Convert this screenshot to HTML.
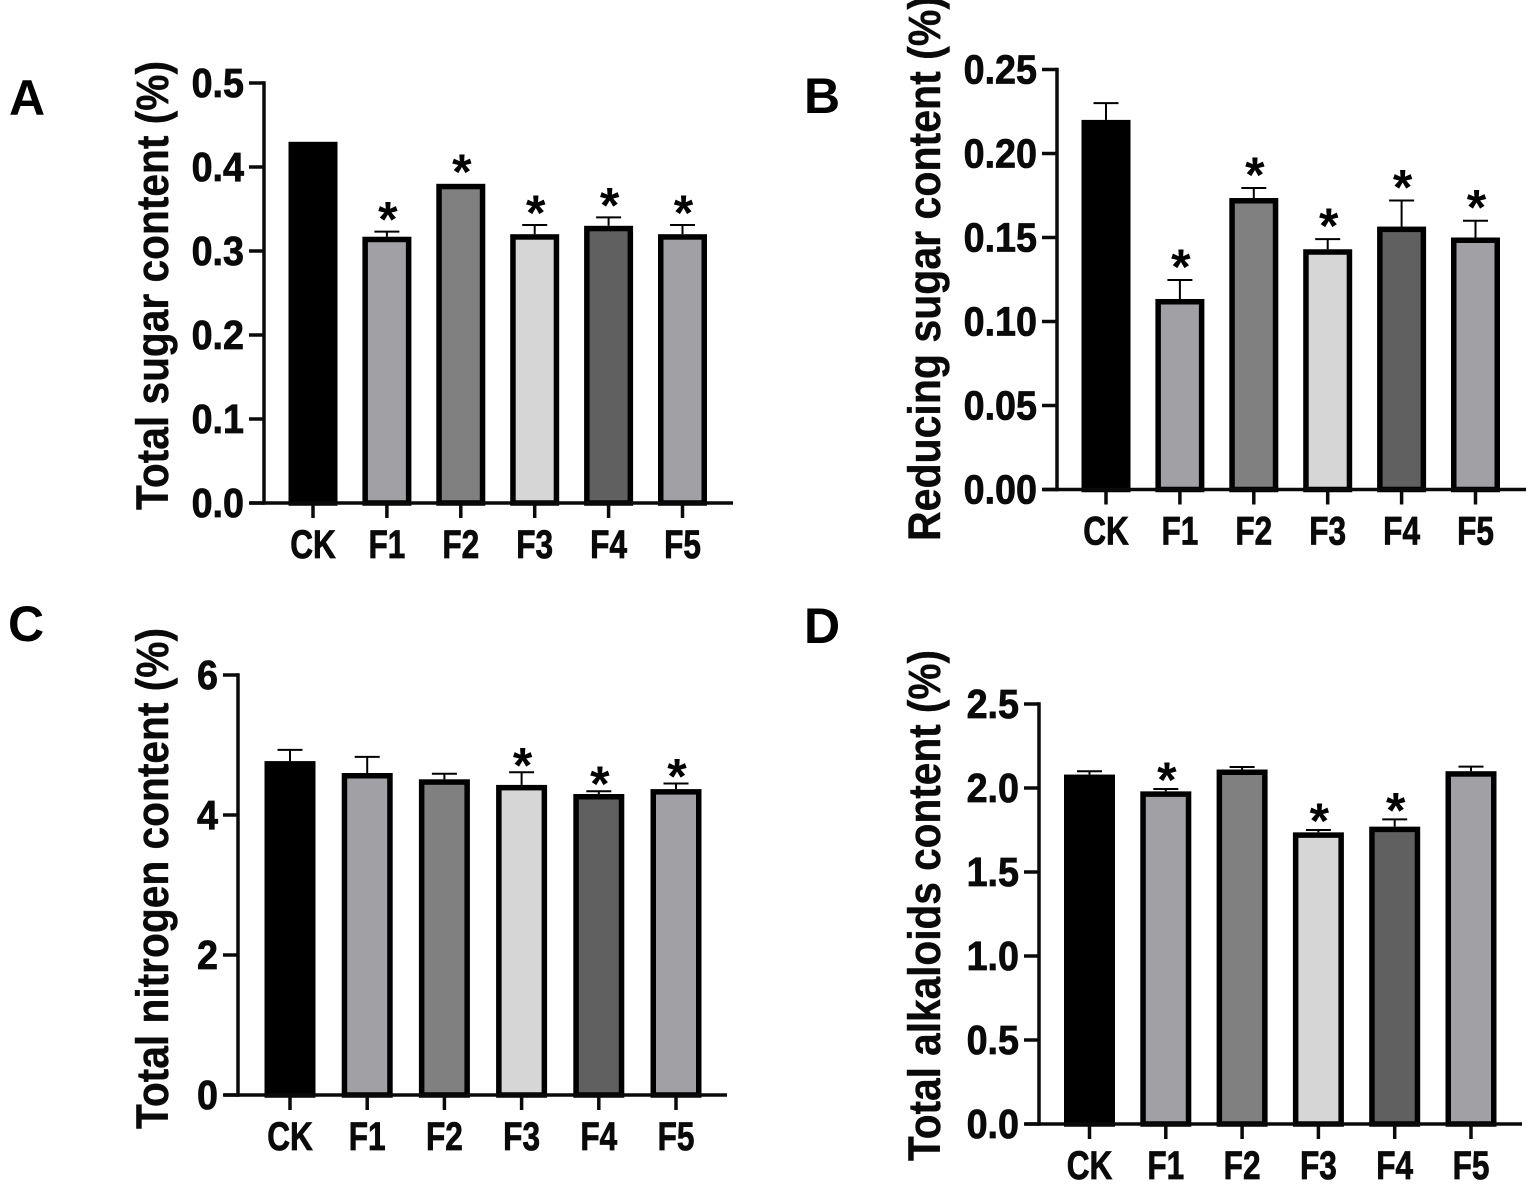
<!DOCTYPE html>
<html lang="en">
<head>
<meta charset="utf-8">
<title>Sugar, nitrogen and alkaloid content by treatment</title>
<style>
html,body{margin:0;padding:0;background:#fff;width:1535px;height:1185px;overflow:hidden}
svg{display:block}
text{font-family:"Liberation Sans",Arial,sans-serif;font-weight:700;fill:#0a0a0a}
</style>
</head>
<body>
<svg id="figure" xmlns="http://www.w3.org/2000/svg" width="1535" height="1185" viewBox="0 0 1535 1185">
<rect width="1535" height="1185" fill="#fff"/>
</svg>
<script>
const categories = ["CK", "F1", "F2", "F3", "F4", "F5"];
const barColors = ["#000000", "#a0a0a5", "#808080", "#d6d6d6", "#606060", "#a0a0a5"];

const sugarValues = [0.43, 0.317, 0.38, 0.32, 0.33, 0.32];
const sugarErrors = [0, 0.006, 0, 0.011, 0.01, 0.011];
const sugarStars = [0, 1, 1, 1, 1, 1];
const sugarTicks = ["0.0", "0.1", "0.2", "0.3", "0.4", "0.5"];

const reducingValues = [0.22, 0.1134, 0.1735, 0.143, 0.1565, 0.15];
const reducingErrors = [0.01, 0.0113, 0.006, 0.006, 0.0155, 0.01];
const reducingStars = [0, 1, 1, 1, 1, 1];
const reducingTicks = ["0.00", "0.05", "0.10", "0.15", "0.20", "0.25"];

const nitrogenValues = [4.77, 4.6, 4.51, 4.43, 4.3, 4.37];
const nitrogenErrors = [0.16, 0.23, 0.08, 0.18, 0.04, 0.08];
const nitrogenStars = [0, 0, 0, 1, 1, 1];
const nitrogenTicks = ["0", "2", "4", "6"];

const alkaloidValues = [2.08, 1.98, 2.11, 1.736, 1.77, 2.1];
const alkaloidErrors = [0.02, 0.014, 0.015, 0.014, 0.043, 0.027];
const alkaloidStars = [0, 1, 0, 1, 1, 0];
const alkaloidTicks = ["0.0", "0.5", "1.0", "1.5", "2.0", "2.5"];

const svg = document.getElementById("figure");
const NS = "http://www.w3.org/2000/svg";

function make(tag, attrs, parent, content) {
  const el = document.createElementNS(NS, tag);
  for (const k in attrs) el.setAttribute(k, attrs[k]);
  if (content !== undefined) el.textContent = content;
  parent.appendChild(el);
  return el;
}

function drawPanel(p) {
  const g = make("g", {}, svg);
  
  

  const maxVal = parseFloat(p.ticks[p.ticks.length - 1]);
  const yScale = v => p.y0 - (v / maxVal) * (p.y0 - p.yTop);
  const xScale = i => p.x0 + i * p.step;
  const sw = 5.5;

  categories.forEach((cat, i) => {
    const cx = xScale(i);
    const top = yScale(p.values[i]);
    if (p.errors[i] > 0) {
      const errTop = yScale(p.values[i] + p.errors[i]);
      const stem = make("line", {x1: cx, x2: cx, y1: top, y2: errTop, stroke: "#000", "stroke-width": 2}, g);
      
      
      const cap = make("line", {x1: cx - 12.5, x2: cx + 12.5, y1: errTop, y2: errTop, stroke: "#000", "stroke-width": 2}, g);
      
      
    }
    const bar = make("rect", {
      x: cx - p.barW / 2 + sw / 2,
      y: top + sw / 2,
      width: p.barW - sw,
      height: Math.max(0, p.y0 - top - sw / 2),
      fill: barColors[i],
      stroke: "#000",
      "stroke-width": sw
    }, g);
    
    

    if (p.stars[i]) {
      const base = yScale(p.values[i] + p.errors[i]);
      const star = make("text", {x: cx + 1, y: base + p.starDrop, "font-size": 50, "text-anchor": "middle", style: "fill:#000"}, g, "*");
      
      
    }

    const tick = make("line", {x1: cx, x2: cx, y1: p.y0, y2: p.y0 + 15, stroke: "#0a0a0a", "stroke-width": 3.5}, g);
    
    

    const label = make("text", {
      transform: "translate(" + cx + " " + (p.y0 + 55) + ") scale(0.79 1)",
      "font-size": 40,
      "text-anchor": "middle",
      stroke: "#0a0a0a",
      "stroke-width": 0.8
    }, g, cat);
    
    
  });

  const yAxis = make("line", {x1: p.axisX, x2: p.axisX, y1: p.yTop - 1.75, y2: p.y0 + 1.75, stroke: "#0a0a0a", "stroke-width": 3.5}, g);
  
  

  const xAxis = make("line", {x1: p.axisX - 14, x2: p.xEnd, y1: p.y0, y2: p.y0, stroke: "#0a0a0a", "stroke-width": 3.5}, g);
  
  

  p.ticks.forEach(t => {
    const y = yScale(parseFloat(t));
    const tick = make("line", {x1: p.axisX - 15, x2: p.axisX, y1: y, y2: y, stroke: "#0a0a0a", "stroke-width": 3.5}, g);
    
    
    const label = make("text", {
      transform: "translate(" + (p.axisX - 20) + " " + (y + 14) + ") scale(0.92 1)",
      "font-size": 41,
      "text-anchor": "end",
      stroke: "#0a0a0a",
      "stroke-width": 0.8
    }, g, t);
    
    
  });

  const title = make("text", {
    transform: "translate(" + p.titleX + " " + p.titleBottom + ") rotate(-90)",
    "font-size": 45,
    textLength: p.titleLen,
    lengthAdjust: "spacingAndGlyphs",
    stroke: "#0a0a0a",
    "stroke-width": 0.4
  }, g, p.title);
  
  

  const letter = make("text", {x: p.letterX, y: p.letterY, "font-size": 50, style: "fill:#000"}, g, p.letter);
  
  
}

drawPanel({
  id: "total-sugar", letter: "A", letterX: 9, letterY: 115, starDrop: 5,
  title: "Total sugar content (%)", titleX: 168, titleBottom: 510, titleLen: 449,
  values: sugarValues, errors: sugarErrors, stars: sugarStars, ticks: sugarTicks,
  axisX: 264, y0: 503, yTop: 83, xEnd: 733, x0: 313, step: 73.9, barW: 49
});
drawPanel({
  id: "reducing-sugar", letter: "B", letterX: 804, letterY: 113, starDrop: 4,
  title: "Reducing sugar content (%)", titleX: 940, titleBottom: 541, titleLen: 545,
  values: reducingValues, errors: reducingErrors, stars: reducingStars, ticks: reducingTicks,
  axisX: 1057, y0: 489.5, yTop: 69.5, xEnd: 1526, x0: 1106, step: 73.9, barW: 49
});
drawPanel({
  id: "total-nitrogen", letter: "C", letterX: 8, letterY: 641, starDrop: 10,
  title: "Total nitrogen content (%)", titleX: 168, titleBottom: 1129, titleLen: 501,
  values: nitrogenValues, errors: nitrogenErrors, stars: nitrogenStars, ticks: nitrogenTicks,
  axisX: 238, y0: 1095, yTop: 675, xEnd: 727, x0: 290, step: 77.2, barW: 51
});
drawPanel({
  id: "total-alkaloids", letter: "D", letterX: 804, letterY: 643, starDrop: 8,
  title: "Total alkaloids content (%)", titleX: 940, titleBottom: 1161, titleLen: 511,
  values: alkaloidValues, errors: alkaloidErrors, stars: alkaloidStars, ticks: alkaloidTicks,
  axisX: 1039, y0: 1124, yTop: 704, xEnd: 1522, x0: 1089.5, step: 76.3, barW: 51
});
</script>
</body>
</html>
